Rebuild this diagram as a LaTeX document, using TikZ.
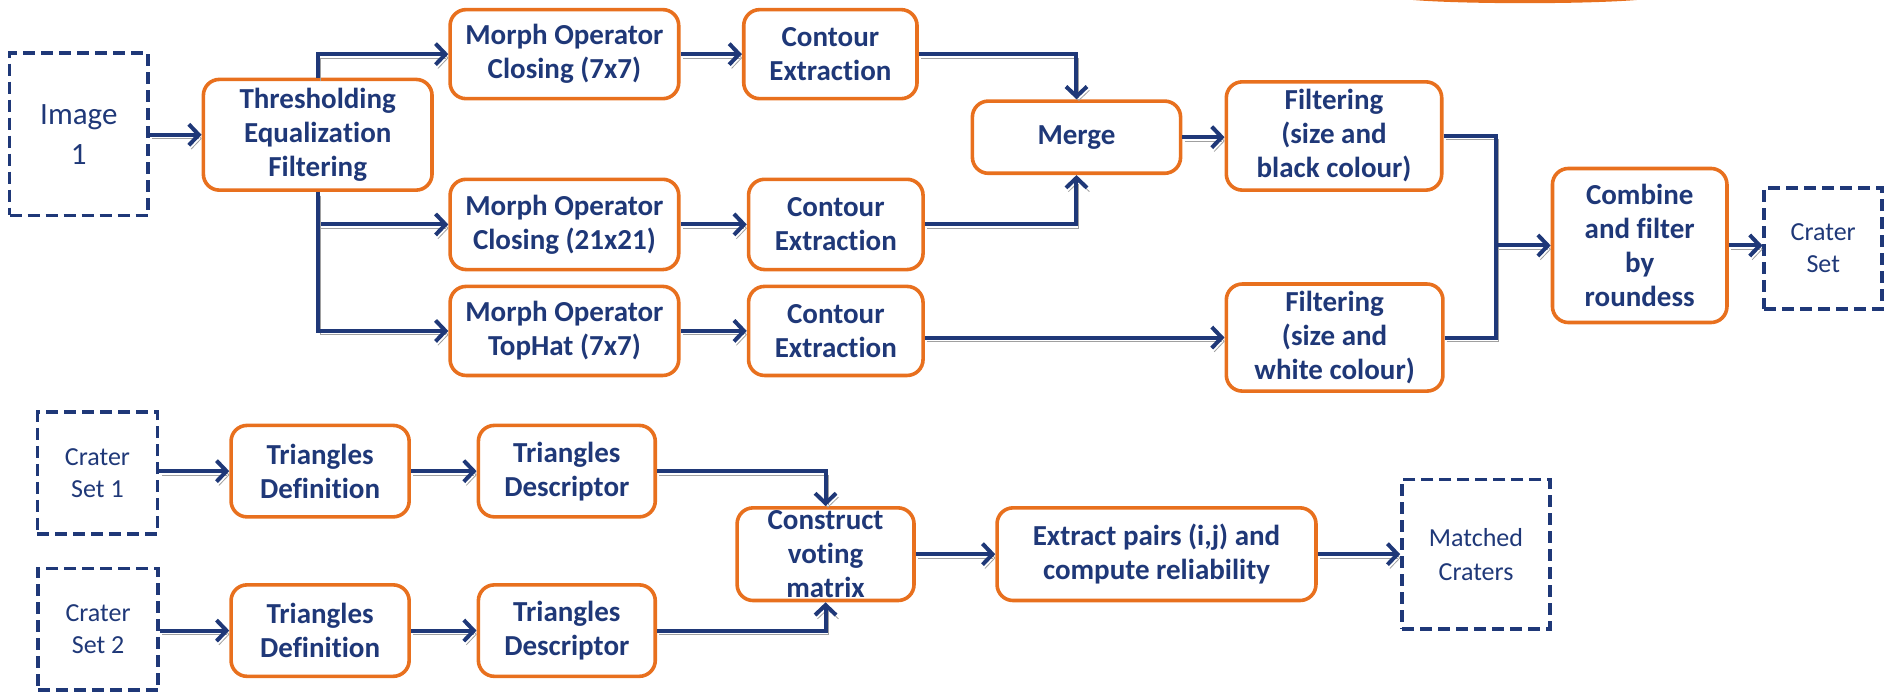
\documentclass[tikz,border=0pt]{standalone}
\usepackage{fontspec}
\setmainfont{Carlito}[Ligatures=NoCommon]
\usetikzlibrary{arrows.meta}
\definecolor{navy}{RGB}{31,56,120}
\definecolor{flowor}{RGB}{232,112,30}
\definecolor{shade}{RGB}{160,160,160}
% keeps "t" and "i" as separate glyphs
\newcommand\tbrk{\kern0pt }

\tikzset{
  proc/.style 2 args={draw=flowor, line width=1.8pt, rounded corners=8pt, fill=white,
    text=navy, font=\fontsize{14.5}{17}\selectfont\bfseries, align=center, inner sep=0pt,
    minimum width=#1*0.6017pt, minimum height=#2*0.6017pt},
  dataset/.style 2 args={draw=navy, line width=1.8pt, dash pattern=on 6pt off 3pt,
    text=navy, font=\fontsize{13}{16}\selectfont, align=center, inner sep=0pt,
    minimum width=#1*0.6017pt, minimum height=#2*0.6017pt},
  wire/.style={draw=navy, line width=2pt,
    preaction={draw=shade, transform canvas={shift={(1.2pt,-1.9pt)}}}},
  flow/.style={wire, -{Straight Barb[length=5pt,width=10.5pt]}},
}

\begin{document}
\begin{tikzpicture}[x=0.6017pt, y=-0.6017pt]
\useasboundingbox (0,0) rectangle (1568,575);

% orange rim at the top edge
\fill[flowor] (1267,-3) ellipse [x radius=66pt, y radius=3.4pt];

% ---- crater detection pipeline ----
\node[dataset={115}{135}, font=\fontsize{15.5}{20}\selectfont] (img) at (65.5,111.5) {Image\\1};
\node[proc={190}{92}] (thr) at (264,112) {Thresholding\\Equaliza\tbrk tion\\Filtering};
\node[proc={190}{74}] (m1) at (469,45) {Morph Operator\\Closing (7x7)};
\node[proc={144}{74}] (c1) at (690,45) {Contour\\Extrac\tbrk tion};
\node[proc={173}{60}] (mrg) at (894.5,114) {Merge};
\node[proc={179}{90}] (fb) at (1108.5,113) {Filtering\\(size and\\black colour)};
\node[proc={190}{75}] (m2) at (469,186.5) {Morph Operator\\Closing (21x21)};
\node[proc={145}{75}] (c2) at (694.5,186.5) {Contour\\Extrac\tbrk tion};
\node[proc={190}{74}] (m3) at (469,275) {Morph Operator\\TopHat (7x7)};
\node[proc={145}{74}] (c3) at (694.5,275) {Contour\\Extrac\tbrk tion};
\node[proc={180}{89}] (fw) at (1109,280.5) {Filtering\\(size and\\white colour)};
\node[proc={145}{128}] (comb) at (1362.5,204) {Combine\\and filter\\by\\roundess};
\node[dataset={98}{101}] (cs) at (1515,206.5) {Crater\\Set};
\coordinate (jn) at (1243,204);

\draw[flow] (img.east |- thr.west) -- (thr.west);
\draw[flow] (thr.north) |- (m1.west);
\draw[flow] (thr.south) |- (m2.west);
\draw[flow] (thr.south) |- (m3.west);
\draw[flow] (m1.east) -- (c1.west);
\draw[flow] (m2.east) -- (c2.west);
\draw[flow] (m3.east) -- (c3.west);
\draw[flow] (c1.east) -| (mrg.north);
\draw[flow] (c2.east) -| (mrg.south);
\draw[flow] (mrg.east) -- (fb.west |- mrg.east);
\draw[flow] (c3.east |- fw.west) -- (fw.west);
\draw[wire] (fb.east) -| (jn);
\draw[wire] (fw.east) -| (jn);
\draw[flow] (jn) -- (comb.west);
\draw[flow] (comb.east) -- (cs.west |- comb.east);

% ---- crater matching pipeline ----
\node[dataset={100}{101}] (cs1) at (81,393) {Crater\\Set 1};
\node[dataset={100}{101}] (cs2) at (81.5,523) {Crater\\Set 2};
\node[proc={148}{76}] (td1) at (266,391.5) {Triangles\\Defini\tbrk tion};
\node[proc={148}{76}] (td2) at (266,524) {Triangles\\Defini\tbrk tion};
\node[proc={147}{76}] (tds1) at (471,391.5) {Triangles\\Descriptor};
\node[proc={147}{76}] (tds2) at (471,524) {Triangles\\Descriptor};
\node[proc={147}{77}] (cvm) at (686,460.5) {Construct\\vo\tbrk ting\\matrix};
\node[proc={265}{77}] (ext) at (961,460.5) {Extract pairs (i,j) and\\compute reliability};
\node[dataset={123}{124}, font=\fontsize{13}{17}\selectfont] (mc) at (1226.5,460.5) {Matched\\Craters};

\draw[flow] (cs1.east |- td1.west) -- (td1.west);
\draw[flow] (td1.east) -- (tds1.west);
\draw[flow] (tds1.east) -| (cvm.north);
\draw[flow] (cs2.east |- td2.west) -- (td2.west);
\draw[flow] (td2.east) -- (tds2.west);
\draw[flow] (tds2.east) -| (cvm.south);
\draw[flow] (cvm.east) -- (ext.west);
\draw[flow] (ext.east) -- (mc.west);
\end{tikzpicture}
\end{document}
